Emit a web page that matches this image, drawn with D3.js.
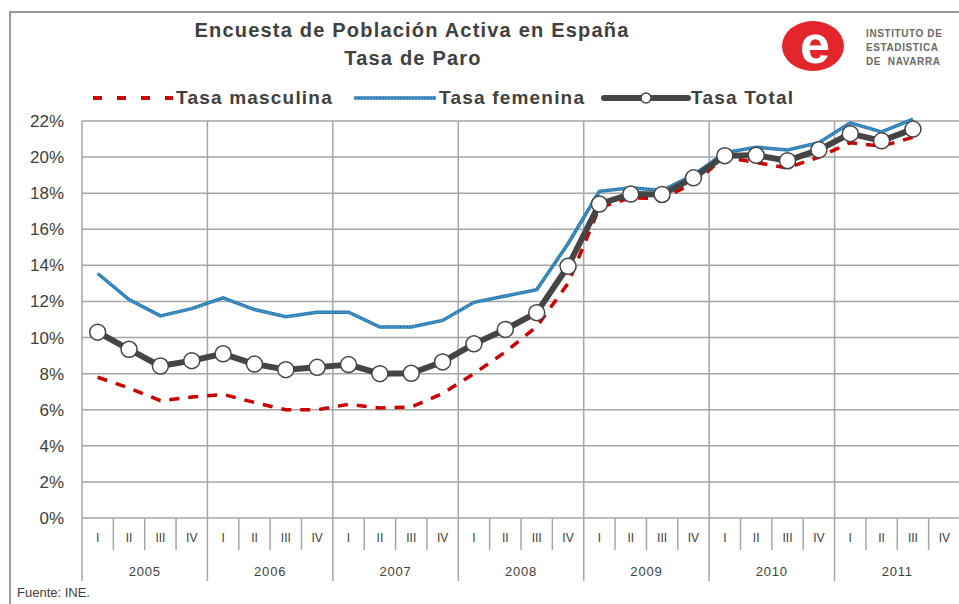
<!DOCTYPE html>
<html>
<head>
<meta charset="utf-8">
<script src="https://cdn.jsdelivr.net/npm/d3@7"></script>
<style>
  body { margin: 0; background: #fff; }
  svg { display: block; font-family: "Liberation Sans", Arial, sans-serif; }
</style>
</head>
<body>
<svg id="chart" width="959" height="604"></svg>
<script>
const years = ['2005', '2006', '2007', '2008', '2009', '2010', '2011'];
const quarters = ['I', 'II', 'III', 'IV'];
const yTicks = [0, 2, 4, 6, 8, 10, 12, 14, 16, 18, 20, 22];

// tasa de paro (%) por trimestre, 2005-I .. 2011-III
const tasaMasculina = [
  7.8, 7.2, 6.5, 6.7, 6.85, 6.4, 6.0, 6.0, 6.3, 6.1, 6.15, 6.9,
  8.0, 9.2, 10.6, 13.0, 17.2, 17.75, 17.7, 18.55, 20.0, 19.7, 19.4, 20.0,
  20.8, 20.6, 21.1
];
const tasaFemenina = [
  13.55, 12.1, 11.2, 11.6, 12.2, 11.55, 11.15, 11.4, 11.4, 10.58, 10.58, 10.95,
  11.95, 12.3, 12.65, 15.2, 18.1, 18.3, 18.15, 19.0, 20.25, 20.55, 20.4, 20.8,
  21.9, 21.4, 22.1
];
const tasaTotal = [
  10.3, 9.35, 8.42, 8.72, 9.1, 8.53, 8.22, 8.35, 8.5, 8.0, 8.02, 8.65,
  9.65, 10.45, 11.38, 13.95, 17.4, 17.95, 17.93, 18.85, 20.08, 20.1, 19.8, 20.4,
  21.3, 20.9, 21.55
];

const svg = d3.select('#chart');
const margin = { left: 82, right: 960, top: 121, bottom: 518 };
const textColor = '#404040';
const gridColor = '#a6a6a6';

const periods = years.flatMap((y) => quarters.map((q) => `${y}-${q}`));

const x = d3.scaleBand().domain(periods).range([margin.left, margin.right]);
const xYear = d3.scaleBand().domain(years).range([margin.left, margin.right]);
const y = d3.scaleLinear().domain([0, 22]).range([margin.bottom, margin.top]);

// marco exterior
svg.append('rect')
  .attr('x', 10).attr('y', 12)
  .attr('width', 960).attr('height', 600)
  .attr('fill', 'none')
  .attr('stroke', '#9a9a9a')
  .attr('stroke-width', 2);

// titulo
svg.append('text')
  .attr('x', 412).attr('y', 37)
  .attr('text-anchor', 'middle')
  .attr('font-size', 20).attr('font-weight', 'bold')
  .attr('letter-spacing', 1.2)
  .attr('fill', textColor)
  .text('Encuesta de Población Activa en España');
svg.append('text')
  .attr('x', 413).attr('y', 65)
  .attr('text-anchor', 'middle')
  .attr('font-size', 20).attr('font-weight', 'bold')
  .attr('letter-spacing', 1.2)
  .attr('fill', textColor)
  .text('Tasa de Paro');

// logo
const logo = svg.append('g').attr('transform', 'translate(813, 46)');
logo.append('ellipse')
  .attr('rx', 31).attr('ry', 25)
  .attr('fill', '#e3262b');
logo.append('text')
  .attr('x', 2).attr('y', 17)
  .attr('text-anchor', 'middle')
  .attr('font-size', 54).attr('font-weight', 'bold')
  .attr('fill', '#fff')
  .text('e');
['INSTITUTO DE', 'ESTADISTICA', 'DE  NAVARRA'].forEach((t, i) => {
  svg.append('text')
    .attr('x', 866).attr('y', 37 + i * 14)
    .attr('font-size', 10).attr('font-weight', 'bold')
    .attr('letter-spacing', 0.6)
    .attr('fill', '#6a6a6a')
    .attr('xml:space', 'preserve')
    .text(t);
});

// rejilla horizontal
svg.append('g')
  .selectAll('line')
  .data(yTicks)
  .join('line')
  .attr('x1', margin.left).attr('x2', margin.right)
  .attr('y1', (d) => y(d)).attr('y2', (d) => y(d))
  .attr('stroke', gridColor)
  .attr('stroke-width', 1.5);

// rejilla vertical por año
svg.append('g')
  .selectAll('line')
  .data(years)
  .join('line')
  .attr('x1', (d) => xYear(d)).attr('x2', (d) => xYear(d))
  .attr('y1', margin.top).attr('y2', margin.bottom)
  .attr('stroke', gridColor)
  .attr('stroke-width', 1.5);

// etiquetas eje y
svg.append('g')
  .selectAll('text')
  .data(yTicks)
  .join('text')
  .attr('x', 64)
  .attr('y', (d) => y(d) + 6)
  .attr('text-anchor', 'end')
  .attr('font-size', 17)
  .attr('fill', textColor)
  .text((d) => `${d}%`);

// eje x: trimestres y años
const xAxis = svg.append('g');
xAxis.selectAll('line.q')
  .data(periods.filter((p) => !p.endsWith('-I')))
  .join('line')
  .attr('class', 'q')
  .attr('x1', (d) => x(d)).attr('x2', (d) => x(d))
  .attr('y1', margin.bottom).attr('y2', 550)
  .attr('stroke', gridColor)
  .attr('stroke-width', 1.5);
xAxis.selectAll('line.y')
  .data(years)
  .join('line')
  .attr('class', 'y')
  .attr('x1', (d) => xYear(d)).attr('x2', (d) => xYear(d))
  .attr('y1', margin.bottom).attr('y2', 581)
  .attr('stroke', gridColor)
  .attr('stroke-width', 1.5);
xAxis.selectAll('text.q')
  .data(periods)
  .join('text')
  .attr('class', 'q')
  .attr('x', (d) => x(d) + x.bandwidth() / 2)
  .attr('y', 542)
  .attr('text-anchor', 'middle')
  .attr('font-size', 12)
  .attr('fill', textColor)
  .text((d) => d.split('-')[1]);
xAxis.selectAll('text.y')
  .data(years)
  .join('text')
  .attr('class', 'y')
  .attr('x', (d) => xYear(d) + xYear.bandwidth() / 2)
  .attr('y', 576)
  .attr('text-anchor', 'middle')
  .attr('font-size', 13)
  .attr('letter-spacing', 0.8)
  .attr('fill', textColor)
  .text((d) => d);

svg.append('text')
  .attr('x', 17).attr('y', 597)
  .attr('font-size', 13)
  .attr('fill', textColor)
  .text('Fuente: INE.');

// series
const line = (values) => d3.line()
  .x((d, i) => x(periods[i]) + x.bandwidth() / 2)
  .y((d) => y(d))(values);

svg.append('path')
  .attr('d', line(tasaMasculina))
  .attr('fill', 'none')
  .attr('stroke', '#cc0000')
  .attr('stroke-width', 3.5)
  .attr('stroke-dasharray', '10,9');

svg.append('path')
  .attr('d', line(tasaFemenina))
  .attr('fill', 'none')
  .attr('stroke', '#2a7db5')
  .attr('stroke-width', 3.5);
svg.append('path')
  .attr('d', line(tasaFemenina))
  .attr('fill', 'none')
  .attr('stroke', '#8fc4e8')
  .attr('stroke-width', 1)
  .attr('stroke-dasharray', '1,2');

svg.append('path')
  .attr('d', line(tasaTotal))
  .attr('fill', 'none')
  .attr('stroke', '#454545')
  .attr('stroke-width', 6)
  .attr('stroke-linejoin', 'round');

svg.append('g')
  .selectAll('circle')
  .data(tasaTotal)
  .join('circle')
  .attr('cx', (d, i) => x(periods[i]) + x.bandwidth() / 2)
  .attr('cy', (d) => y(d))
  .attr('r', 8)
  .attr('fill', '#fff')
  .attr('stroke', '#454545')
  .attr('stroke-width', 1.5);

// leyenda
const legend = svg.append('g');
const legendY = 98;
legend.append('line')
  .attr('x1', 93).attr('x2', 173)
  .attr('y1', legendY).attr('y2', legendY)
  .attr('stroke', '#cc0000')
  .attr('stroke-width', 4)
  .attr('stroke-dasharray', '9,15');
legend.append('line')
  .attr('x1', 354).attr('x2', 436)
  .attr('y1', legendY).attr('y2', legendY)
  .attr('stroke', '#2a7db5')
  .attr('stroke-width', 3.5);
legend.append('line')
  .attr('x1', 354).attr('x2', 436)
  .attr('y1', legendY).attr('y2', legendY)
  .attr('stroke', '#8fc4e8')
  .attr('stroke-width', 1)
  .attr('stroke-dasharray', '1,2');
legend.append('line')
  .attr('x1', 604).attr('x2', 688)
  .attr('y1', legendY).attr('y2', legendY)
  .attr('stroke', '#454545')
  .attr('stroke-width', 6)
  .attr('stroke-linecap', 'round');
legend.append('circle')
  .attr('cx', 646).attr('cy', legendY)
  .attr('r', 5)
  .attr('fill', '#fff')
  .attr('stroke', '#454545')
  .attr('stroke-width', 1.5);
[['Tasa masculina', 176], ['Tasa femenina', 439], ['Tasa Total', 691]].forEach(([t, lx]) => {
  legend.append('text')
    .attr('x', lx).attr('y', legendY + 6)
    .attr('font-size', 19).attr('font-weight', 'bold')
    .attr('letter-spacing', 1.2)
    .attr('fill', textColor)
    .text(t);
});
</script>
</body>
</html>
